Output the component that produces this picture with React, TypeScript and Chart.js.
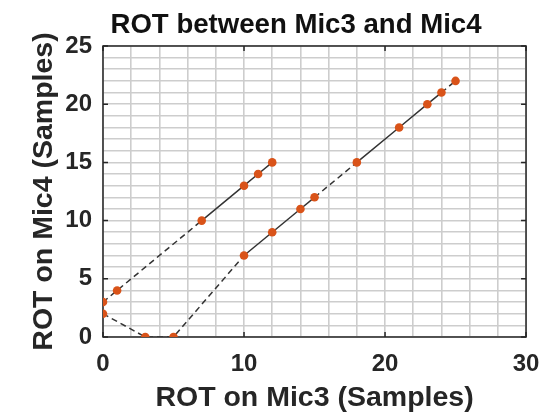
import { useEffect, useRef } from 'react';
import { Chart, registerables } from 'chart.js';

Chart.register(...registerables);

// Text
const titleText = 'ROT between Mic3 and Mic4';
const xAxisTitle = 'ROT on Mic3 (Samples)';
const yAxisTitle = 'ROT on Mic4 (Samples)';

// Upper path (sample offsets)
const pathAX = [0, 1, 7, 10, 11, 12];
const pathAY = [3, 4, 10, 13, 14, 15];
// segment i joins point i and i+1: true = contiguous (solid), false = jump (dashed)
const pathASolid = [false, false, true, true, true];

// Lower path
const pathBX = [0, 3, 5, 10, 12, 14, 15, 18, 21, 23, 24, 25];
const pathBY = [2, 0, 0, 7, 9, 11, 12, 15, 18, 20, 21, 22];
const pathBSolid = [false, false, false, true, true, true, false, true, true, true, false];

// Axes
const xRange = [0, 30];
const yRange = [0, 25];
const xTickLabels = [0, 10, 20, 30];
const yTickLabels = [0, 5, 10, 15, 20, 25];
const xGridStep = 2;
const yGridStep = 1;

const FONT = '"Liberation Sans", Arial, Helvetica, sans-serif';
const INK = '#262626';
const MARKER = '#D95319';
const LINE = '#333333';

const toPoints = (xs: number[], ys: number[]) => xs.map((x, i) => ({ x, y: ys[i] }));

const makeDataset = (xs: number[], ys: number[], solid: boolean[]) => ({
  data: toPoints(xs, ys),
  showLine: true,
  borderColor: LINE,
  borderWidth: 1.5,
  pointRadius: 4.3,
  pointHoverRadius: 4.3,
  pointBackgroundColor: MARKER,
  pointBorderColor: MARKER,
  pointBorderWidth: 0,
  tension: 0,
  segment: {
    borderDash: (ctx: any) => (solid[ctx.p0DataIndex] ? [] : [6, 4]),
  },
});

// Axes box with inward major ticks, plus the title centred above the plot
const framePlugin = {
  id: 'frame',
  beforeDatasetsDraw(chart: any) {
    const { ctx, chartArea: a, scales } = chart;
    ctx.save();
    ctx.strokeStyle = INK;
    ctx.lineWidth = 1.5;
    ctx.strokeRect(a.left, a.top, a.right - a.left, a.bottom - a.top);
    ctx.beginPath();
    const len = 5;
    for (const v of xTickLabels) {
      const px = scales.x.getPixelForValue(v);
      ctx.moveTo(px, a.bottom);
      ctx.lineTo(px, a.bottom - len);
      ctx.moveTo(px, a.top);
      ctx.lineTo(px, a.top + len);
    }
    for (const v of yTickLabels) {
      const py = scales.y.getPixelForValue(v);
      ctx.moveTo(a.left, py);
      ctx.lineTo(a.left + len, py);
      ctx.moveTo(a.right, py);
      ctx.lineTo(a.right - len, py);
    }
    ctx.stroke();
    ctx.restore();
  },
  afterDraw(chart: any) {
    const { ctx } = chart;
    ctx.save();
    ctx.fillStyle = '#111';
    ctx.font = `bold 27.6px ${FONT}`;
    ctx.textAlign = 'center';
    ctx.textBaseline = 'alphabetic';
    ctx.fillText(titleText, 296, 33);
    ctx.restore();
  },
};

export default function App() {
  const canvasRef = useRef<HTMLCanvasElement | null>(null);

  useEffect(() => {
    if (!canvasRef.current) return;
    const chart = new Chart(canvasRef.current, {
      type: 'scatter',
      data: {
        datasets: [
          makeDataset(pathAX, pathAY, pathASolid),
          makeDataset(pathBX, pathBY, pathBSolid),
        ],
      },
      options: {
        responsive: false,
        animation: false,
        layout: { padding: { top: 46, right: 25, bottom: 0, left: 0 } },
        plugins: {
          legend: { display: false },
          tooltip: { enabled: false },
          title: { display: false },
        },
        scales: {
          x: {
            type: 'linear',
            min: xRange[0],
            max: xRange[1],
            afterFit: (s: any) => {
              s.height = 78;
            },
            border: { display: false },
            grid: { color: '#cdcdcd', lineWidth: 1.6, drawTicks: false },
            ticks: {
              stepSize: xGridStep,
              autoSkip: false,
              maxRotation: 0,
              padding: 12.6,
              color: INK,
              font: { family: FONT, size: 24, weight: 'bold' },
              callback: (v: any) => (xTickLabels.includes(Number(v)) ? String(v) : ''),
            },
            title: {
              display: true,
              text: xAxisTitle,
              color: INK,
              font: { family: FONT, size: 28.5, weight: 'bold' },
              padding: { top: 0, bottom: 0 },
            },
          },
          y: {
            type: 'linear',
            min: yRange[0],
            max: yRange[1],
            afterFit: (s: any) => {
              s.width = 103;
            },
            border: { display: false },
            grid: { color: '#cdcdcd', lineWidth: 1.6, drawTicks: false },
            ticks: {
              stepSize: yGridStep,
              autoSkip: false,
              padding: 11,
              color: INK,
              font: { family: FONT, size: 24, weight: 'bold' },
              callback: (v: any) => (yTickLabels.includes(Number(v)) ? String(v) : ''),
            },
            title: {
              display: true,
              text: yAxisTitle,
              color: INK,
              font: { family: FONT, size: 28.5, weight: 'bold' },
              padding: { top: 27, bottom: 0 },
            },
          },
        },
      },
      plugins: [framePlugin],
    });
    return () => chart.destroy();
  }, []);

  return (
    <div style={{ position: 'absolute', left: 0, top: 0, width: 552, height: 415, background: '#fff' }}>
      <canvas ref={canvasRef} width={552} height={415} style={{ display: 'block' }} />
    </div>
  );
}
